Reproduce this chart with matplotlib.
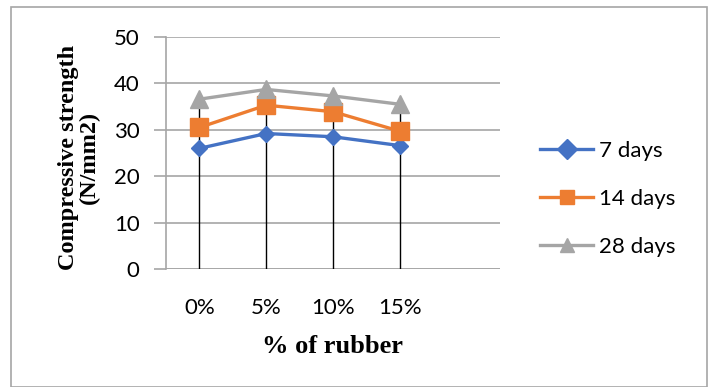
import numpy as np
import matplotlib.pyplot as plt
from matplotlib.patches import Rectangle

rubber = ['0%', '5%', '10%', '15%']
days7 = [26.0, 29.2, 28.5, 26.6]
days14 = [30.5, 35.3, 33.9, 29.7]
days28 = [36.6, 38.7, 37.3, 35.5]

fig = plt.figure(figsize=(7.13, 3.87), dpi=100)
ax = fig.add_axes([166/713, 1-269/387, 334/713, 232/387])

x = np.arange(len(rubber))

# drop lines from the highest series down to zero
top = np.max([days7, days14, days28], axis=0)
ax.vlines(x, 0, top, color='black', linewidth=1.0, zorder=2)

ax.plot(x, days7, color='#4472C4', marker='D', markersize=8, linewidth=2.4, label='7 days', zorder=3)
ax.plot(x, days14, color='#ED7D31', marker='s', markersize=12.5, linewidth=2.4, label='14 days', zorder=3)
ax.plot(x, days28, color='#A5A5A5', marker='^', markersize=12.5, linewidth=2.4, label='28 days', zorder=3)

ax.set_xlim(-0.5, 4.5)
ax.set_ylim(0, 50)
ax.set_yticks(np.arange(0, 51, 10))
ax.set_xticks(x)
ax.set_xticklabels(rubber)
ax.grid(axis='y', color='#A6A6A6', linewidth=1.2)
ax.set_axisbelow(True)
for s in ['top', 'right', 'bottom']:
    ax.spines[s].set_visible(False)
ax.spines['left'].set_color('#A6A6A6')
ax.spines['left'].set_linewidth(1.2)
ax.axhline(0, color='#A6A6A6', linewidth=1.2, zorder=1)
ax.tick_params(axis='y', length=9, color='#A6A6A6', width=1.2, pad=10, labelsize=16)
ax.tick_params(axis='x', length=0, pad=21, labelsize=16)
for t in ax.get_xticklabels() + ax.get_yticklabels():
    t.set_fontfamily('Lato')

ax.set_xlabel('% of rubber', fontfamily='Liberation Serif', fontweight='bold', fontsize=19, labelpad=12)
fig.text(79/713, 1-157/387, 'Compressive strength\n(N/mm2)', rotation=90, ha='center', va='center',
         fontfamily='Liberation Serif', fontweight='bold', fontsize=17.5, linespacing=0.95)

leg = fig.legend(loc='center left', bbox_to_anchor=(540/713, 1-199/387), frameon=False,
                 prop={'family': 'Lato', 'size': 16}, handlelength=2.4, labelspacing=1.25,
                 handletextpad=0.25, borderpad=0, borderaxespad=0)
for h in leg.legend_handles:
    h.set_markersize(10)

# chart area border
fig.patches.append(Rectangle((11/713, 0), 696/713, 1-7/387, transform=fig.transFigure,
                             fill=False, edgecolor='#A6A6A6', linewidth=1.2))

fig.savefig('out.png', dpi=100)
